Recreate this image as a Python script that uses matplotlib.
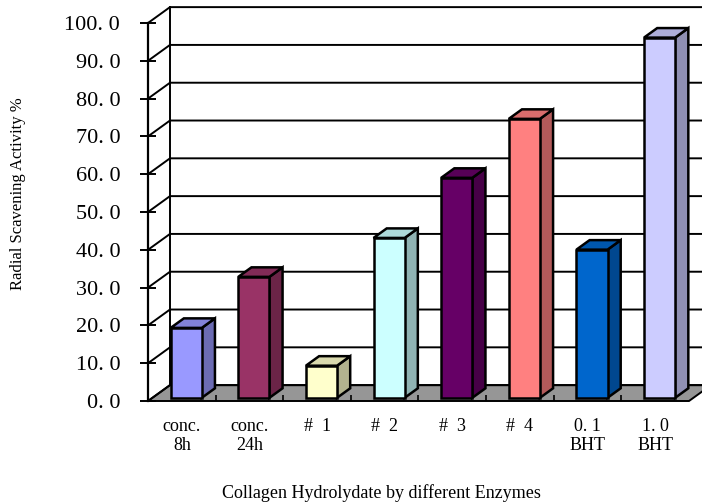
import matplotlib
matplotlib.use('Agg')
import matplotlib.pyplot as plt
from matplotlib.patches import Polygon
from matplotlib.colors import to_rgb
import numpy as np

# samples and radical scavenging activity (%)
categories = ['conc.\n8h', 'conc.\n24h', '#  1', '#  2', '#  3', '#  4', '0. 1\nBHT', '1. 0\nBHT']
activity = [18.5, 32.0, 8.5, 42.3, 58.2, 73.8, 39.2, 95.3]
bar_colors = ['#9999FF', '#993366', '#FFFFCC', '#CCFFFF', '#660066', '#FF8080', '#0066CC', '#CCCCFF']
y_ticks = np.arange(0, 101, 10)

# oblique "3D" depth offset in data units, and bar placement
DX, DY = 0.325, 4.2
T0, T1 = 0.2, 0.8
W = 0.46

plt.rcParams['font.family'] = ['Liberation Serif', 'DejaVu Serif']

fig = plt.figure(figsize=(7.02, 5.04), dpi=100)
ax = fig.add_axes([148 / 702, 103 / 504, 541 / 702, 378 / 504])
n = len(categories)
ax.set_xlim(0, n)
ax.set_ylim(0, 100)


def shade(c, f):
    return tuple(v * f for v in to_rgb(c))


# floor
floor = Polygon([(0, 0), (n, 0), (n + DX, DY), (DX, DY)], closed=True,
                facecolor='#969696', edgecolor='black', lw=1.4, clip_on=False, zorder=1)
ax.add_patch(floor)

# walls and gridlines
for v in y_ticks:
    ax.plot([0, DX, n + DX], [v, v + DY, v + DY], color='black', lw=1.4,
            clip_on=False, zorder=1, solid_capstyle='butt')
ax.plot([DX, DX], [DY, 100 + DY], color='black', lw=1.4, clip_on=False, zorder=1)

# bars
for i, (val, c) in enumerate(zip(activity, bar_colors)):
    x0 = i + 0.5 - W / 2 + T0 * DX
    x1 = x0 + W
    y0 = T0 * DY
    y1 = val + T0 * DY
    ddx = (T1 - T0) * DX
    ddy = (T1 - T0) * DY
    kw = dict(closed=True, edgecolor='black', lw=1.8, clip_on=False, zorder=3,
              joinstyle='miter')
    ax.add_patch(Polygon([(x1, y0), (x1 + ddx, y0 + ddy), (x1 + ddx, y1 + ddy), (x1, y1)],
                         facecolor=shade(c, 0.7), **kw))
    ax.add_patch(Polygon([(x0, y1), (x1, y1), (x1 + ddx, y1 + ddy), (x0 + ddx, y1 + ddy)],
                         facecolor=shade(c, 0.85), **kw))
    ax.add_patch(Polygon([(x0, y0), (x1, y0), (x1, y1), (x0, y1)],
                         facecolor=c, **kw))

for s in ['top', 'right', 'bottom']:
    ax.spines[s].set_visible(False)
ax.spines['left'].set_linewidth(1.6)
ax.spines['left'].set_zorder(2)

ax.set_yticks(y_ticks)
ax.set_yticklabels([('%.1f' % v).replace('.', '. ') for v in y_ticks])
ax.tick_params(axis='y', direction='inout', length=12, width=1.4, labelsize=16, pad=14)

ax.set_xticks(np.arange(n) + 0.5)
ax.set_xticklabels(categories, fontsize=13, linespacing=1.15)
ax.tick_params(axis='x', length=0, pad=12)
ax.set_xticks(np.arange(1, n), minor=True)
ax.tick_params(axis='x', which='minor', direction='in', length=4, width=1.2)

fig.text(18 / 702, 1 - 194 / 504, 'Radial Scavening Activity %', rotation=90,
         ha='center', va='center', fontsize=12)
fig.text(381 / 702, 1 - 493 / 504, 'Collagen Hydrolydate by different Enzymes',
         ha='center', va='center', fontsize=13)

fig.savefig('out.png', dpi=100)
